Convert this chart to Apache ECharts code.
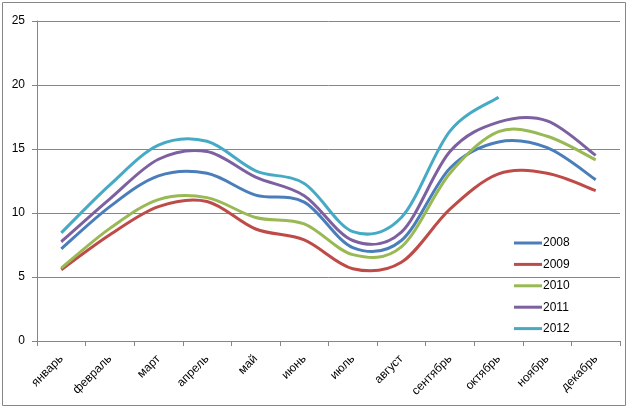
<!DOCTYPE html>
<html>
<head>
<meta charset="utf-8">
<script src="https://cdn.jsdelivr.net/npm/echarts@6/dist/echarts.min.js"></script>
<style>
html,body{margin:0;padding:0;background:#fff;}
#chart{width:629px;height:408px;}
</style>
</head>
<body>
<div id="chart"></div>
<script>
var categories = ['январь','февраль','март','апрель','май','июнь','июль','август','сентябрь','октябрь','ноябрь','декабрь'];
var yTicks = [0, 5, 10, 15, 20, 25];
var seriesNames = ['2008','2009','2010','2011','2012'];
var s2008 = [7.2, 10.5, 12.9, 13.1, 11.4, 10.85, 7.3, 7.85, 13.5, 15.55, 15.1, 12.6];
var s2009 = [5.57, 8.3, 10.5, 10.9, 8.75, 7.9, 5.65, 6.15, 10.3, 13.05, 13.1, 11.75];
var s2010 = [5.7, 8.8, 11.05, 11.2, 9.65, 9.15, 6.75, 7.35, 13.1, 16.35, 16.0, 14.15];
var s2011 = [7.75, 11.1, 14.2, 14.8, 12.8, 11.35, 7.85, 8.5, 14.8, 17.1, 17.2, 14.5];
var s2012 = [8.45, 12.2, 15.3, 15.6, 13.3, 12.3, 8.55, 9.65, 16.4, 19.05, null, null];
var colors = ['#4A7EBB', '#BE4B48', '#98B954', '#7D60A0', '#46AAC5'];

var allData = [s2008, s2009, s2010, s2011, s2012];
var font = "'Liberation Sans', Arial, sans-serif";

// Excel-like (Catmull-Rom) smoothed path through points mapped by the chart's scales
function makeRenderer(values, color) {
  return function (params, api) {
    if (params.dataIndex !== 0) return null;
    var pts = [];
    for (var i = 0; i < values.length; i++) {
      if (values[i] == null) break;
      pts.push(api.coord([i, values[i]]));
    }
    if (pts.length < 2) return null;
    var d = 'M' + pts[0][0] + ',' + pts[0][1];
    for (var k = 0; k < pts.length - 1; k++) {
      var p0 = pts[k - 1] || pts[k];
      var p1 = pts[k];
      var p2 = pts[k + 1];
      var p3 = pts[k + 2] || pts[k + 1];
      var c1x = p1[0] + (p2[0] - p0[0]) / 6;
      var c1y = p1[1] + (p2[1] - p0[1]) / 6;
      var c2x = p2[0] - (p3[0] - p1[0]) / 6;
      var c2y = p2[1] - (p3[1] - p1[1]) / 6;
      d += ' C' + c1x + ',' + c1y + ' ' + c2x + ',' + c2y + ' ' + p2[0] + ',' + p2[1];
    }
    return {
      type: 'path',
      shape: {pathData: d},
      style: {fill: null, stroke: color, lineWidth: 3, lineJoin: 'round', lineCap: 'butt'}
    };
  };
}

var chart = echarts.init(document.getElementById('chart'), null, {renderer: 'canvas'});
chart.setOption({
  animation: false,
  backgroundColor: '#fff',
  color: colors,
  graphic: [{
    type: 'rect',
    shape: {x: 2.5, y: 2.5, width: 623, height: 403},
    style: {fill: 'none', stroke: '#868686', lineWidth: 1},
    silent: true
  }],
  grid: {left: 37, right: 9, top: 21, bottom: 67, containLabel: false},
  legend: {
    orient: 'vertical',
    left: 509,
    top: 232,
    icon: 'rect',
    itemWidth: 28,
    itemHeight: 3,
    itemGap: 9.4,
    textStyle: {fontFamily: font, fontSize: 12, color: '#000', padding: [0,0,0,-4]},
    data: seriesNames
  },
  xAxis: {
    type: 'category',
    data: categories,
    boundaryGap: true,
    axisLine: {lineStyle: {color: '#868686', width: 1}},
    axisTick: {show: true, length: 5, lineStyle: {color: '#868686'}},
    axisLabel: {rotate: 45, margin: 16, fontFamily: font, fontSize: 12, color: '#000', interval: 0},
    splitLine: {show: false}
  },
  yAxis: {
    type: 'value',
    min: yTicks[0],
    max: yTicks[yTicks.length - 1],
    interval: 5,
    axisLine: {show: true, lineStyle: {color: '#868686', width: 1}},
    axisTick: {show: true, length: 5, lineStyle: {color: '#868686'}},
    axisLabel: {margin: 12, fontFamily: font, fontSize: 12, color: '#000'},
    splitLine: {show: true, lineStyle: {color: '#868686', width: 1}}
  },
  series: seriesNames.map(function (n, i) {
    return {
      name: n,
      type: 'custom',
      coordinateSystem: 'cartesian2d',
      data: allData[i].map(function (v, j) { return [j, v]; }),
      encode: {x: 0, y: 1},
      renderItem: makeRenderer(allData[i], colors[i]),
      itemStyle: {color: colors[i]}
    };
  })
});
</script>
</body>
</html>
